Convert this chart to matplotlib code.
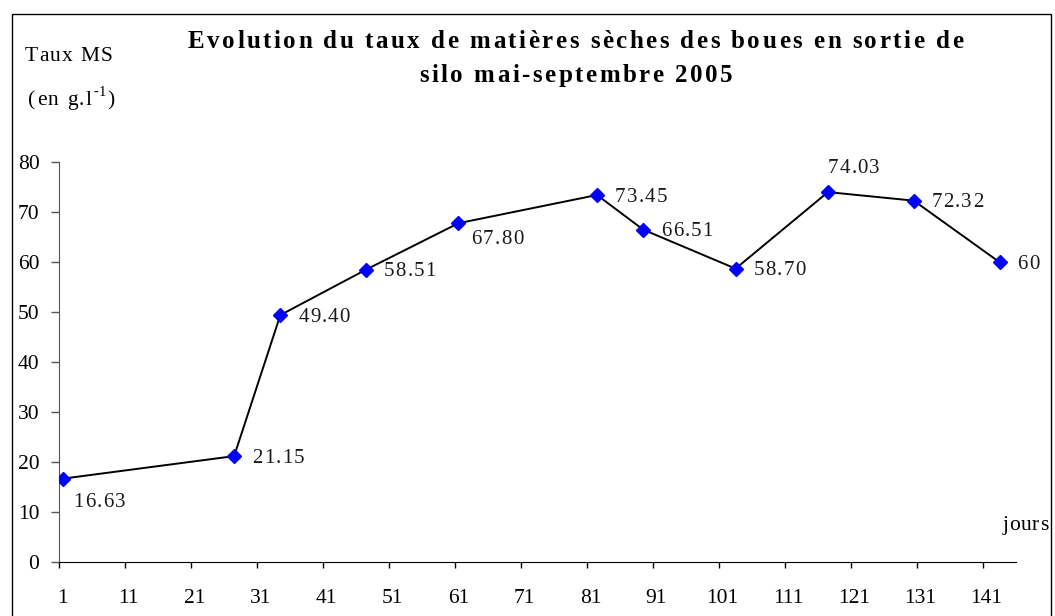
import matplotlib
matplotlib.use("Agg")
import matplotlib.pyplot as plt
from matplotlib.patches import Rectangle
from matplotlib.font_manager import FontProperties, findfont, get_font
import matplotlib.ft2font as ft2font

plt.rcParams['font.family'] = ['Liberation Serif', 'DejaVu Serif']

days = [1, 27, 34, 47, 61, 82, 89, 103, 117, 130, 143]
values = [16.63, 21.15, 49.40, 58.51, 67.80, 73.45, 66.51, 58.70, 74.03, 72.32, 60]
labels = ["16.63", "21.15", "49.40", "58.51", "67.80", "73.45", "66.51",
          "58.70", "74.03", "72.32", "60"]
xtick_labels = [str(d) for d in range(1, 142, 10)]
yticks = list(range(0, 81, 10))

title1 = "Evolution du taux de matières sèches des boues en sortie de"
title2 = "silo mai-septembre 2005"
ylab1 = "Taux MS"
ylab2 = "(en g.l"
ylab_sup = "-1"
xlab = "jours"

W, H = 1055, 616
fig = plt.figure(figsize=(W / 100, H / 100), dpi=100)

try:
    NOHINT = ft2font.LoadFlags.NO_HINTING
except AttributeError:
    NOHINT = ft2font.LOAD_NO_HINTING


def advances(s, fp):
    font = get_font(findfont(fp))
    font.set_size(fp.get_size_in_points(), 100)
    return [font.load_char(ord(ch), flags=NOHINT).linearHoriAdvance / 65536.0 for ch in s]


def draw_text(x, yb, s, fp, spacing=0.0, ha='left', color='black', target=None):
    """Draw letter-spaced text; x, yb in pixels from the top-left, yb = baseline."""
    adv = advances(s, fp)
    n = len(s)
    if target is not None and n > 1:
        spacing = (target - sum(adv)) / (n - 1)
    total = sum(adv) + spacing * (n - 1)
    x0 = x - total / 2 if ha == 'center' else (x - total if ha == 'right' else x)
    cx = x0
    for ch, a in zip(s, adv):
        if ch != ' ':
            fig.text(cx / W, 1 - yb / H, ch, fontproperties=fp, ha='left',
                     va='baseline', color=color)
        cx += a + spacing
    return x0, total, spacing


# outer chart frame
fig.patches.append(Rectangle((12 / W, -0.01), (1051 - 12) / W, (H - 14) / H + 0.01,
                             transform=fig.transFigure, fill=False,
                             edgecolor='black', linewidth=1.0))

ax_l, ax_r, ax_t, ax_b = 59.3, 1016, 162.3, 561.7
ax = fig.add_axes([ax_l / W, (H - ax_b) / H, (ax_r - ax_l) / W, (ax_b - ax_t) / H])

ax.plot(days, values, color='black', linewidth=1.4, zorder=2)
ax.plot(days, values, linestyle='none', marker='D', markersize=7.2,
        markerfacecolor='#0000ff', markeredgecolor='#0000ff', zorder=3)

ax.set_xlim(0.5, 145.5)
ax.set_ylim(0, 80)

ax.set_yticks(yticks)
ax.set_yticklabels([str(y) for y in yticks])
ax.tick_params(axis='y', direction='out', length=5.8, width=1, pad=8.5,
               labelsize=15.5, color='#555555')

major_pos = [int(s) for s in xtick_labels]
ax.set_xticks(major_pos)
ax.set_xticklabels(xtick_labels)
ax.set_xticks([p - 0.5 for p in major_pos], minor=True)
ax.tick_params(axis='x', which='major', length=0, pad=20, labelsize=15.5)
ax.tick_params(axis='x', which='minor', direction='out', length=4.5, width=1)

for s in ['top', 'right']:
    ax.spines[s].set_visible(False)
ax.spines['left'].set_color('#555555')
ax.spines['bottom'].set_color('black')

# data labels (offsets in pixels: dx, baseline dy downward)
fp_lab = FontProperties(family='Liberation Serif', size=15)
offsets = {0: (11, 28), 4: (13, 21), 8: (0, -19.5)}
for i, (d, v, lab) in enumerate(zip(days, values, labels)):
    px, py = ax.transData.transform((d, v))
    py = H - py
    dx, dy = offsets.get(i, (18, 6.5))
    draw_text(px + dx, py + dy, lab, fp_lab, spacing=1.2, color='#1a1a1a')

# title
fp_title = FontProperties(family='Liberation Serif', size=18, weight='bold')
x0, tot, sp_title = draw_text(188, 48, title1, fp_title, target=775)
draw_text(x0 + tot / 2, 82, title2, fp_title, spacing=sp_title, ha='center')

# y-axis label
fp_ax = FontProperties(family='Liberation Serif', size=15.5)
draw_text(25, 61, ylab1, fp_ax, target=88)
x0, tot, _ = draw_text(28, 105, ylab2, fp_ax, spacing=1.5)
fp_sup = FontProperties(family='Liberation Serif', size=10.5)
x1, tot1, _ = draw_text(x0 + tot + 1.5, 96, ylab_sup, fp_sup, spacing=0.5)
draw_text(x1 + tot1 + 1.5, 105, ")", fp_ax)

# x-axis label
draw_text(1003, 530, xlab, fp_ax, target=45)

fig.savefig("out.png", dpi=100)
